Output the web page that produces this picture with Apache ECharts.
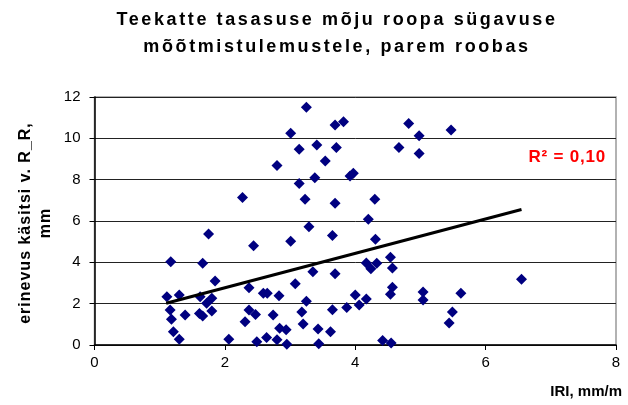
<!DOCTYPE html>
<html><head><meta charset="utf-8">
<script src="https://cdn.jsdelivr.net/npm/echarts@6/dist/echarts.min.js"></script>
<style>html,body{margin:0;padding:0;background:#fff}#c{width:628px;height:405px}</style>
</head><body><div id="c"></div>
<script>
const iriValues = [3.25,3.01,3.82,3.69,3.14,3.41,3.71,2.80,3.54,3.14,3.38,3.92,3.97,3.23,3.69,4.30,4.20,3.29,4.82,4.98,4.67,4.98,5.47,2.27,1.75,2.44,3.01,3.65,4.31,1.17,1.66,1.85,1.11,1.30,1.62,1.80,1.16,1.39,1.18,1.61,1.80,1.72,1.66,1.21,1.30,2.06,3.08,2.37,2.59,2.65,2.83,2.37,2.47,2.31,2.74,2.84,2.94,2.49,2.64,2.80,2.95,3.18,3.35,3.69,4.17,4.24,4.33,3.25,3.20,3.65,3.87,4.00,4.06,4.17,3.43,3.62,3.44,4.54,4.57,4.57,4.54,5.04,5.04,5.49,5.44,4.42,4.55,5.62,6.55];
const diffValues = [11.5,10.24,10.8,10.64,9.47,9.68,9.56,8.69,8.90,7.82,8.09,8.18,8.31,7.05,6.86,7.05,6.08,5.72,10.72,10.13,9.56,9.27,10.40,7.14,5.37,4.80,5.02,5.30,5.12,4.03,3.95,3.10,2.34,2.42,2.34,2.26,1.69,1.45,1.24,1.53,1.64,2.02,1.40,0.64,0.28,0.28,2.96,2.77,2.50,2.50,2.38,1.69,1.48,1.13,1.45,0.81,0.74,0.16,0.36,0.26,0.04,1.60,3.55,3.45,3.97,3.69,3.95,2.12,1.02,1.71,1.81,2.42,1.94,2.22,0.77,0.64,0.06,4.25,3.73,2.80,2.46,2.56,2.18,1.60,1.06,0.22,0.10,2.50,3.18];
const trendX = [1.10, 6.55];
const trendY = [2.02, 6.56];
const xTicks = [0,2,4,6,8];
const yTicks = [0,2,4,6,8,10,12];
const titleLines = ['Teekatte tasasuse mõju roopa sügavuse', 'mõõtmistulemustele, parem roobas'];
const xName = 'IRI, mm/m';
const yNameLines = ['erinevus käsitsi v. R_R,', 'mm'];
const r2Label = 'R² = 0,10';

// letter spacing for the wide Excel-style bold text (keyed on font size)
(function(){
  const P = CanvasRenderingContext2D.prototype;
  const orig = P.fillText;
  P.fillText = function(t,x,y,m){
    if ('letterSpacing' in this) {
      const f = this.font;
      let ls = '0px';
      if (/bold/.test(f) && /18px/.test(f)) ls = '2.6px';
      else if (/bold/.test(f) && /16px/.test(f)) ls = '1px';
      else if (/bold/.test(f) && /17px/.test(f)) ls = '0.8px';
      this.letterSpacing = ls;
    }
    return m === undefined ? orig.call(this,t,x,y) : orig.call(this,t,x,y,m);
  };
})();

const chart = echarts.init(document.getElementById('c'), null, {renderer:'canvas'});
const font = 'Liberation Sans, Arial, sans-serif';
const points = iriValues.map((x,i)=>[x, diffValues[i]]);
chart.setOption({
  animation:false,
  backgroundColor:'#fff',
  graphic:[
    {type:'text',x:337,y:20,
     style:{text:titleLines[0],font:'bold 18px '+font,fill:'#000',textAlign:'center',textVerticalAlign:'middle'}},
    {type:'text',x:337,y:47,
     style:{text:titleLines[1],font:'bold 18px '+font,fill:'#000',textAlign:'center',textVerticalAlign:'middle'}},
    {type:'text',x:36,y:223,rotation:Math.PI/2,
     style:{text:yNameLines.join('\n'),font:'bold 16px '+font,fill:'#000',textAlign:'center',textVerticalAlign:'middle',lineHeight:20}},
    {type:'text',x:606,y:157,
     style:{text:r2Label,font:'bold 17px '+font,fill:'#ff0000',textAlign:'right',textVerticalAlign:'middle'}}
  ],
  grid:{left:94.5,right:12,top:97,bottom:60,show:true,borderColor:'#999',borderWidth:1.5},
  xAxis:{type:'value',min:xTicks[0],max:xTicks[xTicks.length-1],interval:2,
    axisLine:{show:true,lineStyle:{color:'#000',width:1.5}},
    axisTick:{show:true,inside:false,length:5,lineStyle:{color:'#000'}},
    splitLine:{show:false},
    axisLabel:{fontFamily:font,fontSize:15,color:'#000',margin:10},
    name:xName,nameLocation:'end',nameGap:0,
    nameTextStyle:{fontFamily:font,fontWeight:'bold',fontSize:15,color:'#000',align:'right',verticalAlign:'top',padding:[39,-6,0,0]}},
  yAxis:{type:'value',min:yTicks[0],max:yTicks[yTicks.length-1],interval:2,
    axisLine:{show:true,lineStyle:{color:'#000',width:1.5}},
    axisTick:{show:true,length:5,lineStyle:{color:'#000'}},
    splitLine:{show:true,lineStyle:{color:'#222',width:1}},
    axisLabel:{fontFamily:font,fontSize:15,color:'#000',margin:14}},
  series:[
    {type:'scatter',data:points,symbol:'diamond',symbolSize:11,itemStyle:{color:'#000080',opacity:1}},
    {type:'line',data:trendX.map((x,i)=>[x,trendY[i]]),symbol:'none',lineStyle:{color:'#000',width:3},z:3}
  ]
});
</script></body></html>
